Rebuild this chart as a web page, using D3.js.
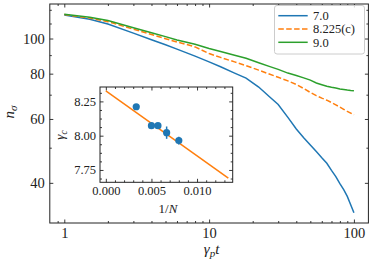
<!DOCTYPE html>
<html><head><meta charset="utf-8">
<script src="https://cdn.jsdelivr.net/npm/d3@7"></script>
<style>
html,body{margin:0;padding:0;background:#fff;}
svg text{font-family:"Liberation Serif","DejaVu Serif",serif;fill:#222;}
</style></head>
<body><svg id="c" width="374" height="265"></svg>
<script>
// ---- data ----
const times = [1,1.5,2,3,4,5,6,7,8,10,12,15,18,22,26,30,35,40,45,50,55,60,65,70,75,80,85,90,95,100];
const seriesNames = ["7.0","8.225(c)","9.0"];
const nBlue   = [116.1,113.0,109.7,103.5,99.2,96.1,93.5,91.3,89.4,86.2,83.6,80.3,77.8,73.5,69.2,65.8,60.6,56.3,53.3,50.9,48.8,46.9,45.3,43.3,41.6,39.8,38.3,36.7,34.8,33.1];
const nOrange = [116.4,113.9,111.3,106.1,102.6,99.9,97.8,96.3,94.8,90.9,88.7,86.2,84.2,81.8,79.8,78.2,76.4,74.7,72.8,71.0,69.6,68.5,67.6,66.6,65.6,64.7,63.8,63.0,62.3,61.6];
const nGreen  = [116.6,114.5,112.1,107.1,103.7,101.2,99.1,97.7,96.4,93.9,92.1,89.9,88.2,85.7,83.8,82.2,80.3,79.1,77.9,76.8,75.4,74.6,73.9,73.4,73.0,72.6,72.4,72.1,71.9,71.8];
const xMajor = [1,10,100];
const xMinor = [0.9,2,3,4,5,6,7,8,9,20,30,40,50,60,70,80,90];
const yMajor = [40,60,80,100];
const yMinor = [50,70,90,110,120];

const invN   = [1/300,1/200,1/175,1/150,1/125];
const gammaC = [8.211,8.073,8.073,8.022,7.964];
const gammaErr = [0.010,0.012,0.012,0.045,0.028];
const fitX = [0,0.01343];
const fitY = [8.326,7.690];
const insXMajor = [0,0.005,0.010];
const insXMinor = [0.001,0.002,0.003,0.004,0.006,0.007,0.008,0.009,0.011,0.012,0.013];
const insYMajor = [7.75,8.00,8.25];
const insYMinor = [7.6875,7.8125,7.875,7.9375,8.0625,8.125,8.1875,8.3125];

const colors = ["#1f77b4","#ff7f0e","#2ca02c"];

// ---- layout ----
const svg = d3.select("#c");
const L=49.8, R=368.4, T=4, B=223;
const x = d3.scaleLog().domain([Math.pow(10,-0.1), Math.pow(10,2.1)]).range([L,R]);
const y = d3.scaleLog().domain([31.0,124.5]).range([B,T]);

const fs = 14.5;
function ticks(g, axis){ g.call(axis).call(s=>s.select(".domain").remove());
  g.selectAll("line").attr("stroke","#222").attr("stroke-width",0.9);
  g.selectAll("text").attr("font-size",fs).attr("fill","#222").style("font-family",'"Liberation Serif",serif');
}
ticks(svg.append("g").attr("transform",`translate(0,${B})`), d3.axisBottom(x).tickValues(xMajor).tickSize(-3.5).tickPadding(5).tickFormat(d3.format("d")));
ticks(svg.append("g").attr("transform",`translate(0,${B})`), d3.axisBottom(x).tickValues(xMinor).tickSize(-2).tickFormat(""));
ticks(svg.append("g").attr("transform",`translate(0,${T})`), d3.axisTop(x).tickValues(xMajor).tickSize(-3.5).tickFormat(""));
ticks(svg.append("g").attr("transform",`translate(0,${T})`), d3.axisTop(x).tickValues(xMinor).tickSize(-2).tickFormat(""));
ticks(svg.append("g").attr("transform",`translate(${L},0)`), d3.axisLeft(y).tickValues(yMajor).tickSize(-3.5).tickPadding(5).tickFormat(d3.format("d")));
ticks(svg.append("g").attr("transform",`translate(${L},0)`), d3.axisLeft(y).tickValues(yMinor).tickSize(-2).tickFormat(""));
ticks(svg.append("g").attr("transform",`translate(${R},0)`), d3.axisRight(y).tickValues(yMajor).tickSize(-3.5).tickFormat(""));
ticks(svg.append("g").attr("transform",`translate(${R},0)`), d3.axisRight(y).tickValues(yMinor).tickSize(-2).tickFormat(""));

// lines
const series = [nBlue,nOrange,nGreen];
const line = d3.line().x((d,i)=>x(times[i])).y(d=>y(d));
series.forEach((s,k)=>{
  svg.append("path").datum(s).attr("d",line).attr("fill","none")
    .attr("stroke",colors[k]).attr("stroke-width",1.5)
    .attr("stroke-dasharray", k===1 ? "5.5,2.4" : null);
});

svg.append("rect").attr("x",L).attr("y",T).attr("width",R-L).attr("height",B-T)
  .attr("fill","none").attr("stroke","#222").attr("stroke-width",1);

// axis labels
const xl = svg.append("text").attr("x",211.5).attr("y",254).attr("text-anchor","middle").attr("font-size",15);
xl.append("tspan").attr("font-style","italic").text("γ");
xl.append("tspan").attr("font-style","italic").attr("font-size",11).attr("dy",3).text("p");
xl.append("tspan").attr("font-style","italic").attr("dy",-3).text("t");
const yl = svg.append("text").attr("transform","translate(14,112) rotate(-90)").attr("text-anchor","middle").attr("font-size",15);
yl.append("tspan").attr("font-style","italic").text("n");
yl.append("tspan").attr("font-style","italic").attr("font-size",11).attr("dy",3).text("σ");

// legend
const lg = svg.append("g");
lg.append("rect").attr("x",274.5).attr("y",5.5).attr("width",90).attr("height",48.5).attr("rx",2.5)
  .attr("fill","#fff").attr("fill-opacity",0.8).attr("stroke","#ccc").attr("stroke-width",1);
seriesNames.forEach((n,k)=>{
  const yy = 15.7 + k*13.3;
  lg.append("line").attr("x1",278.3).attr("x2",307.7).attr("y1",yy).attr("y2",yy)
    .attr("stroke",colors[k]).attr("stroke-width",1.5).attr("stroke-dasharray",k===1?"5.5,2.4":null);
  lg.append("text").attr("x",313).attr("y",yy+4.3).attr("font-size",12.5).text(n);
});

// ---- inset ----
const iL=100, iR=232.7, iT=87, iB=182.3;
const ix = d3.scaleLinear().domain([-0.00064,0.01391]).range([iL,iR]);
const iy = d3.scaleLinear().domain([7.66,8.355]).range([iB,iT]);
svg.append("rect").attr("x",iL).attr("y",iT).attr("width",iR-iL).attr("height",iB-iT).attr("fill","#fff");
const ifs = 12.5;
function iticks(g, axis){ g.call(axis).call(s=>s.select(".domain").remove());
  g.selectAll("line").attr("stroke","#222").attr("stroke-width",0.9);
  g.selectAll("text").attr("font-size",ifs).attr("fill","#222").style("font-family",'"Liberation Serif",serif');
}
iticks(svg.append("g").attr("transform",`translate(0,${iB})`), d3.axisBottom(ix).tickValues(insXMajor).tickSize(-3.5).tickPadding(4).tickFormat(d3.format(".3f")));
iticks(svg.append("g").attr("transform",`translate(0,${iB})`), d3.axisBottom(ix).tickValues(insXMinor).tickSize(-2).tickFormat(""));
iticks(svg.append("g").attr("transform",`translate(0,${iT})`), d3.axisTop(ix).tickValues(insXMajor).tickSize(-3.5).tickFormat(""));
iticks(svg.append("g").attr("transform",`translate(0,${iT})`), d3.axisTop(ix).tickValues(insXMinor).tickSize(-2).tickFormat(""));
iticks(svg.append("g").attr("transform",`translate(${iL},0)`), d3.axisLeft(iy).tickValues(insYMajor).tickSize(-3.5).tickPadding(4).tickFormat(d3.format(".2f")));
iticks(svg.append("g").attr("transform",`translate(${iL},0)`), d3.axisLeft(iy).tickValues(insYMinor).tickSize(-2).tickFormat(""));
iticks(svg.append("g").attr("transform",`translate(${iR},0)`), d3.axisRight(iy).tickValues(insYMajor).tickSize(-3.5).tickFormat(""));
iticks(svg.append("g").attr("transform",`translate(${iR},0)`), d3.axisRight(iy).tickValues(insYMinor).tickSize(-2).tickFormat(""));

svg.append("line").attr("x1",ix(fitX[0])).attr("y1",iy(fitY[0])).attr("x2",ix(fitX[1])).attr("y2",iy(fitY[1]))
  .attr("stroke",colors[1]).attr("stroke-width",1.5);
invN.forEach((v,i)=>{
  svg.append("line").attr("x1",ix(v)).attr("x2",ix(v)).attr("y1",iy(gammaC[i]-gammaErr[i])).attr("y2",iy(gammaC[i]+gammaErr[i]))
    .attr("stroke",colors[0]).attr("stroke-width",1.5);
});
svg.selectAll("circle.pt").data(invN).enter().append("circle").attr("class","pt")
  .attr("cx",d=>ix(d)).attr("cy",(d,i)=>iy(gammaC[i])).attr("r",3.6).attr("fill",colors[0]);
svg.append("rect").attr("x",iL).attr("y",iT).attr("width",iR-iL).attr("height",iB-iT)
  .attr("fill","none").attr("stroke","#222").attr("stroke-width",1);

const il = svg.append("text").attr("x",168).attr("y",213).attr("text-anchor","middle").attr("font-size",13);
il.append("tspan").text("1/");
il.append("tspan").attr("font-style","italic").text("N");
const ig = svg.append("text").attr("transform","translate(64,135) rotate(-90)").attr("text-anchor","middle").attr("font-size",13);
ig.append("tspan").attr("font-style","italic").text("γ");
ig.append("tspan").attr("font-style","italic").attr("font-size",9.5).attr("dy",2.5).text("c");
</script></body></html>
